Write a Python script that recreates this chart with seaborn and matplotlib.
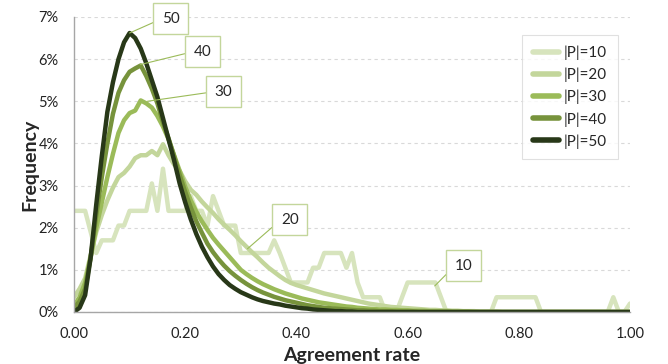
import numpy as np
import pandas as pd
import seaborn as sns
from matplotlib import pyplot as plt
from matplotlib.ticker import PercentFormatter, FormatStrFormatter

# agreement-rate bins (0.00 .. 1.00, step 0.01)
rate = np.linspace(0, 1, 101)

# frequency in % per bin
p10 = [2.4, 2.4, 2.4, 1.9, 1.4, 1.7, 1.7, 1.7, 2.05, 2.05,
       2.4, 2.4, 2.4, 2.4, 3.05, 2.4, 3.4, 2.4, 2.4, 2.4,
       2.4, 2.75, 2.4, 2.4, 2.05, 2.75, 2.4, 2.05, 2.05, 2.05,
       1.4, 1.4, 1.4, 1.4, 1.4, 1.4, 1.7, 1.4, 1.05, 0.7,
       0.7, 0.7, 0.7, 1.05, 1.05, 1.4, 1.4, 1.4, 1.4, 1.05,
       1.4, 0.7, 0.35, 0.35, 0.35, 0.35, 0.0, 0.0, 0.0, 0.35,
       0.7, 0.7, 0.7, 0.7, 0.7, 0.7, 0.35, 0.0, 0.0, 0.0,
       0.0, 0.0, 0.0, 0.0, 0.0, 0.0, 0.35, 0.35, 0.35, 0.35,
       0.35, 0.35, 0.35, 0.35, 0.0, 0.0, 0.0, 0.0, 0.0, 0.0,
       0.0, 0.0, 0.0, 0.0, 0.0, 0.0, 0.0, 0.35, 0.0, 0.0,
       0.2]
p20 = [0.35, 0.55, 0.8, 1.35, 1.9, 2.3, 2.65, 2.95, 3.2, 3.3,
       3.45, 3.65, 3.72, 3.72, 3.82, 3.72, 3.98, 3.72, 3.5, 3.35,
       3.1, 2.9, 2.78, 2.62, 2.48, 2.35, 2.2, 2.07, 1.95, 1.82,
       1.68, 1.55, 1.42, 1.3, 1.17, 1.05, 0.95, 0.85, 0.76, 0.69,
       0.64, 0.6, 0.56, 0.52, 0.48, 0.44, 0.41, 0.38, 0.35, 0.32,
       0.29, 0.26, 0.23, 0.2, 0.18, 0.16, 0.14, 0.12, 0.11, 0.1,
       0.09, 0.08, 0.07, 0.06, 0.05, 0.05, 0.04, 0.04, 0.03, 0.03,
       0.02, 0.02, 0.02, 0.01, 0.01, 0.01, 0.01, 0.0, 0.0, 0.0,
       0.0, 0.0, 0.0, 0.0, 0.0, 0.0, 0.0, 0.0, 0.0, 0.0,
       0.0, 0.0, 0.0, 0.0, 0.0, 0.0, 0.0, 0.0, 0.0, 0.0,
       0.0]
p30 = [0.15, 0.35, 0.7, 1.3, 2.0, 2.6, 3.2, 3.75, 4.25, 4.55,
       4.72, 4.78, 5.02, 4.95, 4.85, 4.65, 4.4, 4.1, 3.72, 3.35,
       2.97, 2.65, 2.38, 2.15, 1.95, 1.76, 1.6, 1.45, 1.3, 1.15,
       1.0, 0.9, 0.81, 0.73, 0.66, 0.6, 0.54, 0.49, 0.44, 0.4,
       0.36, 0.32, 0.29, 0.26, 0.23, 0.21, 0.19, 0.17, 0.15, 0.13,
       0.12, 0.1, 0.09, 0.08, 0.07, 0.06, 0.06, 0.05, 0.05, 0.04,
       0.04, 0.03, 0.03, 0.03, 0.02, 0.02, 0.02, 0.02, 0.01, 0.01,
       0.01, 0.01, 0.0, 0.0, 0.0, 0.0, 0.0, 0.0, 0.0, 0.0,
       0.0, 0.0, 0.0, 0.0, 0.0, 0.0, 0.0, 0.0, 0.0, 0.0,
       0.0, 0.0, 0.0, 0.0, 0.0, 0.0, 0.0, 0.0, 0.0, 0.0,
       0.0]
p40 = [0.1, 0.25, 0.55, 1.3, 2.3, 3.2, 4.0, 4.7, 5.2, 5.5,
       5.7, 5.78, 5.85, 5.6, 5.3, 4.95, 4.5, 4.12, 3.7, 3.25,
       2.85, 2.48, 2.15, 1.88, 1.62, 1.42, 1.25, 1.1, 0.97, 0.86,
       0.76, 0.67, 0.59, 0.52, 0.46, 0.41, 0.36, 0.32, 0.28, 0.25,
       0.22, 0.19, 0.16, 0.14, 0.12, 0.1, 0.09, 0.08, 0.07, 0.06,
       0.05, 0.04, 0.04, 0.03, 0.03, 0.02, 0.02, 0.02, 0.01, 0.01,
       0.01, 0.01, 0.0, 0.0, 0.0, 0.0, 0.0, 0.0, 0.0, 0.0,
       0.0, 0.0, 0.0, 0.0, 0.0, 0.0, 0.0, 0.0, 0.0, 0.0,
       0.0, 0.0, 0.0, 0.0, 0.0, 0.0, 0.0, 0.0, 0.0, 0.0,
       0.0, 0.0, 0.0, 0.0, 0.0, 0.0, 0.0, 0.0, 0.0, 0.0,
       0.0]
p50 = [0.0, 0.1, 0.4, 1.3, 2.55, 3.7, 4.75, 5.45, 6.0, 6.4,
       6.62, 6.5, 6.25, 5.9, 5.5, 5.1, 4.6, 4.1, 3.6, 3.05,
       2.6, 2.2, 1.85, 1.55, 1.3, 1.08, 0.9, 0.76, 0.64, 0.55,
       0.47, 0.41, 0.35, 0.3, 0.26, 0.23, 0.2, 0.18, 0.15, 0.13,
       0.11, 0.09, 0.08, 0.06, 0.05, 0.04, 0.03, 0.02, 0.02, 0.01,
       0.01, 0.0, 0.0, 0.0, 0.0, 0.0, 0.0, 0.0, 0.0, 0.0,
       0.0, 0.0, 0.0, 0.0, 0.0, 0.0, 0.0, 0.0, 0.0, 0.0,
       0.0, 0.0, 0.0, 0.0, 0.0, 0.0, 0.0, 0.0, 0.0, 0.0,
       0.0, 0.0, 0.0, 0.0, 0.0, 0.0, 0.0, 0.0, 0.0, 0.0,
       0.0, 0.0, 0.0, 0.0, 0.0, 0.0, 0.0, 0.0, 0.0, 0.0,
       0.0]

sizes = ['|P|=10', '|P|=20', '|P|=30', '|P|=40', '|P|=50']
colors = ['#D7E4BD', '#C3D69B', '#9BBB59', '#77933C', '#283818']

# callout labels: text, point on curve, box centre
call_text = ['50', '40', '30', '20', '10']
call_xy = [(0.10, 6.62), (0.119, 5.87), (0.132, 5.0), (0.312, 1.5), (0.649, 0.62)]
call_box = [(0.174, 6.96), (0.231, 6.18), (0.269, 5.23), (0.388, 2.19), (0.701, 1.1)]

df = pd.concat([pd.DataFrame({'rate': rate, 'freq': v, 'size': s})
                for s, v in zip(sizes, [p10, p20, p30, p40, p50])])

sns.set_style('white')
plt.rcParams['font.family'] = ['Lato', 'DejaVu Sans']
plt.rcParams['lines.solid_joinstyle'] = 'round'

fig = plt.figure(figsize=(6.68, 3.64), dpi=100)
ax = fig.add_axes([0.1108, 0.1429, 0.8323, 0.8104])

sns.lineplot(data=df, x='rate', y='freq', hue='size', palette=colors,
             linewidth=3.2, ax=ax)

ax.set_xlim(0, 1)
ax.set_ylim(0, 7)
ax.set_xticks([0, 0.2, 0.4, 0.6, 0.8, 1.0])
ax.set_yticks(range(8))
ax.xaxis.set_major_formatter(FormatStrFormatter('%.2f'))
ax.yaxis.set_major_formatter(PercentFormatter(xmax=100, decimals=0))
ax.yaxis.grid(True, linestyle=(0, (3, 3)), color='#D9D9D9', linewidth=0.8)
ax.set_axisbelow(True)
for side in ['top', 'right']:
    ax.spines[side].set_visible(False)
for side in ['left', 'bottom']:
    ax.spines[side].set_color('#A6A6A6')
    ax.spines[side].set_linewidth(1)
ax.tick_params(direction='out', length=5, width=1, color='#A6A6A6',
               labelsize=10.5, labelcolor='#222222', pad=6)

ax.set_xlabel('Agreement rate', fontsize=14, fontweight='bold', labelpad=4)
ax.set_ylabel('Frequency', fontsize=14, fontweight='bold', labelpad=0)

sns.move_legend(ax, 'upper right', bbox_to_anchor=(0.978, 0.939), title=None,
                frameon=True, fancybox=False, edgecolor='#D9D9D9',
                fontsize=11, handlelength=1.7, handletextpad=0.35,
                labelspacing=0.5, borderpad=0.7, borderaxespad=0)
leg = ax.get_legend()
leg.get_frame().set_linewidth(0.8)
for h in leg.legend_handles:
    h.set_linewidth(4)
    h.set_solid_capstyle('round')

for t, xy, box in zip(call_text, call_xy, call_box):
    ax.annotate(t, xy=xy, xytext=box, ha='center', va='center', fontsize=11,
                bbox=dict(boxstyle='square,pad=0.55', fc='white', ec='#C3D69B', lw=1),
                arrowprops=dict(arrowstyle='-', color='#9BBB59', lw=0.8,
                                relpos=(0, 0.5), shrinkA=0, shrinkB=0),
                annotation_clip=False)

fig.savefig('out.png', dpi=100)
